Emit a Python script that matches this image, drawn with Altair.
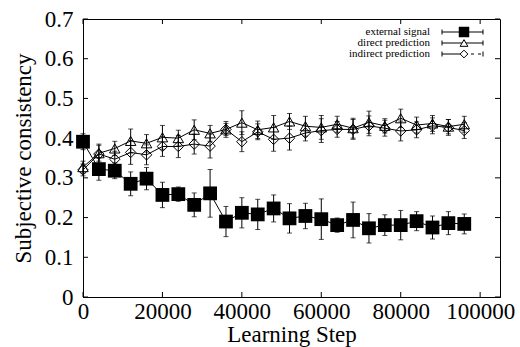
import altair as alt
import pandas as pd

steps = [0, 4000, 8000, 12000, 16000, 20000, 24000, 28000, 32000, 36000, 40000, 44000, 48000,
         52000, 56000, 60000, 64000, 68000, 72000, 76000, 80000, 84000, 88000, 92000, 96000]
ext = [0.391, 0.322, 0.318, 0.285, 0.298, 0.257, 0.259, 0.232, 0.261, 0.190, 0.212, 0.208, 0.223,
       0.198, 0.204, 0.196, 0.181, 0.194, 0.173, 0.181, 0.181, 0.191, 0.175, 0.186, 0.184]
ext_err = [0.02, 0.028, 0.02, 0.03, 0.028, 0.032, 0.018, 0.03, 0.06, 0.038, 0.038, 0.038, 0.034,
           0.037, 0.032, 0.051, 0.018, 0.045, 0.037, 0.026, 0.037, 0.024, 0.029, 0.029, 0.025]
direct = [0.327, 0.362, 0.374, 0.393, 0.387, 0.402, 0.400, 0.421, 0.412, 0.422, 0.439, 0.421, 0.427,
          0.442, 0.430, 0.427, 0.435, 0.425, 0.440, 0.431, 0.450, 0.433, 0.437, 0.429, 0.435]
direct_err = [0.015, 0.02, 0.018, 0.03, 0.022, 0.03, 0.02, 0.025, 0.02, 0.02, 0.03, 0.022, 0.03,
              0.02, 0.025, 0.03, 0.02, 0.025, 0.028, 0.018, 0.023, 0.02, 0.02, 0.018, 0.02]
indirect = [0.320, 0.360, 0.347, 0.364, 0.358, 0.379, 0.379, 0.385, 0.380, 0.422, 0.391, 0.416, 0.397,
            0.400, 0.413, 0.419, 0.422, 0.422, 0.431, 0.425, 0.418, 0.421, 0.431, 0.427, 0.419]
indirect_err = [0.015, 0.025, 0.02, 0.03, 0.025, 0.025, 0.028, 0.025, 0.03, 0.015, 0.025, 0.02, 0.03,
                0.03, 0.02, 0.03, 0.02, 0.025, 0.025, 0.02, 0.025, 0.02, 0.02, 0.02, 0.02]
series_names = ["external signal", "direct prediction", "indirect prediction"]
x_ticks = [0, 20000, 40000, 60000, 80000, 100000]
y_ticks = [0, 0.1, 0.2, 0.3, 0.4, 0.5, 0.6, 0.7]

FONT = "Liberation Serif"
W, H = 417, 278
xs = alt.Scale(domain=[0, 105000], nice=False)
ys = alt.Scale(domain=[0, 0.7], nice=False)

rows = []
for name, vals, errs in zip(series_names, [ext, direct, indirect], [ext_err, direct_err, indirect_err]):
    for s, v, e in zip(steps, vals, errs):
        rows.append({"series": name, "step": s, "v": v, "lo": v - e, "hi": v + e})
df = pd.DataFrame(rows)

XAX = alt.Axis(values=x_ticks, format="d", title="Learning Step",
               ticks=False, grid=False, labelFontSize=23,
               titleFontSize=23, labelPadding=3, titlePadding=0,
               labelFont=FONT, titleFont=FONT, labelColor="black",
               titleColor="black", titleFontWeight="normal",
               domainColor="black", labelFlush=False, labelOverlap=False)
YAX = alt.Axis(values=y_ticks, format=".1~f", title="Subjective consistency",
               ticks=False, grid=False, labelFontSize=23,
               titleFontSize=23, labelPadding=10, titlePadding=9,
               labelFont=FONT, titleFont=FONT, labelColor="black",
               titleColor="black", titleFontWeight="normal",
               domainColor="black", labelFlush=False, labelOverlap=False)


def qx(f):
    return alt.X(f, scale=xs, axis=XAX, title="Learning Step")


def qy(f):
    return alt.Y(f, scale=ys, axis=YAX, title="Subjective consistency")


base = alt.Chart(df)
lines = base.mark_line(color="black", strokeWidth=1).encode(x=qx("step:Q"), y=qy("v:Q"), detail="series:N")
bars = base.mark_rule(color="black", strokeWidth=1).encode(
    x=qx("step:Q"), y=qy("lo:Q"), y2="hi:Q")
cap_lo = base.mark_tick(color="black", orient="horizontal", size=5, thickness=1).encode(
    x=qx("step:Q"), y=qy("lo:Q"))
cap_hi = base.mark_tick(color="black", orient="horizontal", size=5, thickness=1).encode(
    x=qx("step:Q"), y=qy("hi:Q"))

p1 = base.transform_filter(alt.datum.series == series_names[0]).mark_point(
    shape="square", filled=True, color="black", size=190, opacity=1).encode(
    x=qx("step:Q"), y=qy("v:Q"))
p2 = base.transform_filter(alt.datum.series == series_names[1]).mark_point(
    shape="triangle-up", filled=False, color="black", size=110, strokeWidth=1, opacity=1).encode(
    x=qx("step:Q"), y=qy("v:Q"))
p3 = base.transform_filter(alt.datum.series == series_names[2]).mark_point(
    shape="diamond", filled=False, color="black", size=110, strokeWidth=1, opacity=1).encode(
    x=qx("step:Q"), y=qy("v:Q"))

# inward tick marks (mirrored)
xt = pd.DataFrame({"t": x_ticks})
yt = pd.DataFrame({"t": y_ticks})
xtick_b = alt.Chart(xt).mark_rule(color="black").encode(
    x=qx("t:Q"), y=alt.value(H), y2=alt.value(H - 5))
xtick_t = alt.Chart(xt).mark_rule(color="black").encode(
    x=qx("t:Q"), y=alt.value(0), y2=alt.value(5))
ytick_l = alt.Chart(yt).mark_rule(color="black").encode(
    y=qy("t:Q"), x=alt.value(0), x2=alt.value(5))
ytick_r = alt.Chart(yt).mark_rule(color="black").encode(
    y=qy("t:Q"), x=alt.value(W), x2=alt.value(W - 5))

# legend
leg_layers = []
leg_y = [13, 24, 35]
shapes = ["square", "triangle-up", "diamond"]
sizes = [110, 60, 60]
lx0, lx1, lm = 359, 400, 381
for i, name in enumerate(series_names):
    d = pd.DataFrame({"name": [name]})
    c = alt.Chart(d)
    leg_layers.append(c.mark_text(align="right", baseline="middle", font=FONT, fontSize=11,
                                  color="black").encode(text="name:N", x=alt.value(347), y=alt.value(leg_y[i])))
    if i < 2:
        leg_layers.append(c.mark_rule(color="black").encode(
            x=alt.value(lx0), x2=alt.value(lx1), y=alt.value(leg_y[i])))
    else:
        leg_layers.append(c.mark_rule(color="black").encode(
            x=alt.value(lx0), x2=alt.value(lm), y=alt.value(leg_y[i])))
        leg_layers.append(c.mark_rule(color="black", strokeDash=[3, 4]).encode(
            x=alt.value(lm), x2=alt.value(lx1), y=alt.value(leg_y[i])))
    leg_layers.append(c.mark_rule(color="black").encode(
        x=alt.value(lx0), y=alt.value(leg_y[i] - 2.5), y2=alt.value(leg_y[i] + 2.5)))
    leg_layers.append(c.mark_rule(color="black").encode(
        x=alt.value(lx1), y=alt.value(leg_y[i] - 2.5), y2=alt.value(leg_y[i] + 2.5)))
    leg_layers.append(c.mark_point(shape=shapes[i], filled=(i == 0), color="black",
                                   fill="white" if i > 0 else "black", size=sizes[i],
                                   strokeWidth=1, opacity=1).encode(
        x=alt.value(lm), y=alt.value(leg_y[i])))

chart = alt.layer(lines, bars, cap_lo, cap_hi, p2, p3, p1,
                  xtick_b, xtick_t, ytick_l, ytick_r, *leg_layers).properties(
    width=W, height=H, autosize="none",
    padding={"left": 83, "top": 19, "right": 20, "bottom": 50},
    background="white",
).configure_view(stroke="black", strokeWidth=1)

chart.save("out.html", embed_options={"renderer": "svg", "actions": False})
